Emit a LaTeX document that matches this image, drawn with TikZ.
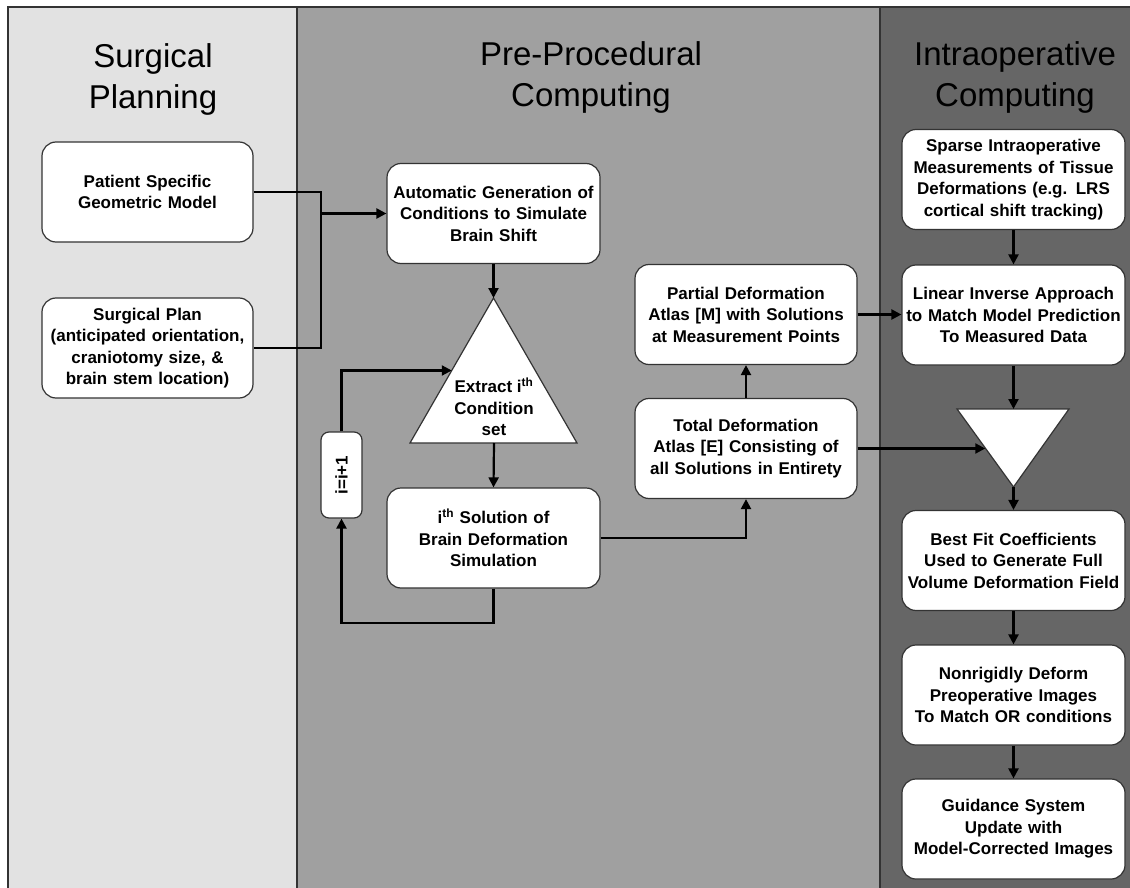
\documentclass[tikz,border=0pt]{standalone}
\usepackage{fontspec}
\setmainfont{Liberation Sans}
\usepackage{tikz}
\usetikzlibrary{arrows.meta}
\usetikzlibrary{calc}
\definecolor{planbg}{HTML}{E2E2E2}
\definecolor{prebg}{HTML}{A0A0A0}
\definecolor{intrabg}{HTML}{666666}
\definecolor{edgegray}{HTML}{333333}
\tikzstyle{flowarrow} = [line width=2.2pt,-{Triangle[length=10pt,width=10pt]}]
\tikzstyle{flowline} = [line width=2.2pt]
\tikzstyle{procbox} = [draw=edgegray,line width=1.2pt,fill=white,rounded corners=14pt,minimum height=100pt,inner sep=0pt,align=center,font=\bfseries\fontsize{17}{21.5}\selectfont]
\tikzstyle{tri} = [draw=edgegray,line width=1.2pt,fill=white]
\tikzstyle{title} = [align=center,font=\fontsize{33}{41}\selectfont]

\begin{document}
\begin{tikzpicture}[x=1pt,y=-1pt]
			\clip (0,0) rectangle (1130,888);
			\fill [white] (0,0) rectangle (1130,888);
			\draw [fill=planbg,draw=edgegray,line width=1.2pt] (8,7) rectangle (297,900);
			\draw [fill=prebg,draw=edgegray,line width=1.2pt] (297,7) rectangle (880,900);
			\draw [fill=intrabg,draw=edgegray,line width=1.2pt] (880,7) rectangle (1140,900);
			
			\node [title] (plantitle) at (153,79.5) {Surgical\\Planning};
			\node [title] (pretitle) at (591,77) {Pre-Procedural\\Computing};
			\node [title] (intratitle) at (1015,77) {Intraoperative\\Computing};
			
			\node [procbox,text width=211pt] (patient) at (147.5,192) {Patient Specific\\Geometric Model};
			\node [procbox,text width=211pt] (plan) at (147.5,348) {Surgical Plan\\(anticipated orientation,\\craniotomy size, \&\\brain stem location)};
			
			\node [procbox,text width=213pt] (auto) at (493.5,213.5) {Automatic Generation of\\Conditions to Simulate\\Brain Shift};
			\coordinate (exttop) at (493.5,298);
			\coordinate (extleft) at (410,443);
			\coordinate (extright) at (577,443);
			\draw [tri] (exttop) -- (extright) -- (extleft) -- cycle;
			\node [align=center,font=\bfseries\fontsize{17}{21.5}\selectfont] (extract) at (494,407) {Extract i\textsuperscript{th}\\Condition\\set};
			\node [procbox,text width=213pt] (solu) at (493.5,538) {i\textsuperscript{th} Solution of\\Brain Deformation\\Simulation};
			\node [procbox,rounded corners=8pt,text width=41pt,minimum height=86pt] (incr) at (341.5,475) {\rotatebox{90}{i=i+1}};
			
			\node [procbox,text width=222pt] (partial) at (746,314.5) {Partial Deformation\\Atlas [M] with Solutions\\at Measurement Points};
			\node [procbox,text width=222pt] (total) at (746,448.5) {Total Deformation\\Atlas [E] Consisting of\\all Solutions in Entirety};
			
			\node [procbox,text width=223pt] (sparse) at (1013.5,179.5) {Sparse Intraoperative\\Measurements of Tissue\\Deformations (e.g. LRS\\cortical shift tracking)};
			\node [procbox,text width=223pt] (linear) at (1013.5,315) {Linear Inverse Approach\\to Match Model Prediction\\To Measured Data};
			\coordinate (mixtl) at (957,409);
			\coordinate (mixtr) at (1069,409);
			\coordinate (mixbot) at (1013.5,487);
			\draw [tri] (mixtl) -- (mixtr) -- (mixbot) -- cycle;
			\node [procbox,text width=223pt] (best) at (1013.5,560.5) {Best Fit Coefficients\\Used to Generate Full\\Volume Deformation Field};
			\node [procbox,text width=223pt] (nonrigid) at (1013.5,695) {Nonrigidly Deform\\Preoperative Images\\To Match OR conditions};
			\node [procbox,text width=223pt] (guide) at (1013.5,829) {Guidance System\\Update with\\Model-Corrected Images};
			
			\coordinate (join) at (321,213.5);
			\coordinate (extin) at ($(exttop)!0.5!(extleft)$);
			\coordinate (mixin) at ($(mixtl)!0.5!(mixbot)$);
			\draw [flowline] (patient.east) -| (join |- plan.east) -- (plan.east);
			\draw [flowarrow] (join) -- (auto.west);
			\draw [flowarrow] (auto.south) -- (exttop);
			\draw [flowarrow] (extract.south |- extleft) -- (solu.north);
			\draw [flowarrow] (solu.south) -- ++(0,34) -| (incr.south);
			\draw [flowarrow] (incr.north) |- (extin);
			\draw [flowarrow] (solu.east) -| (total.south);
			\draw [flowarrow] (total.north) -- (partial.south);
			\draw [flowarrow] (partial.east) -- (partial.east -| linear.west);
			\draw [flowarrow] (total.east) -- (total.east -| mixin);
			\draw [flowarrow] (sparse.south) -- (linear.north);
			\draw [flowarrow] (linear.south) -- (linear.south |- mixtl);
			\draw [flowarrow] (mixbot) -- (best.north);
			\draw [flowarrow] (best.south) -- (nonrigid.north);
			\draw [flowarrow] (nonrigid.south) -- (guide.north);
			
		\end{tikzpicture}
\end{document}
